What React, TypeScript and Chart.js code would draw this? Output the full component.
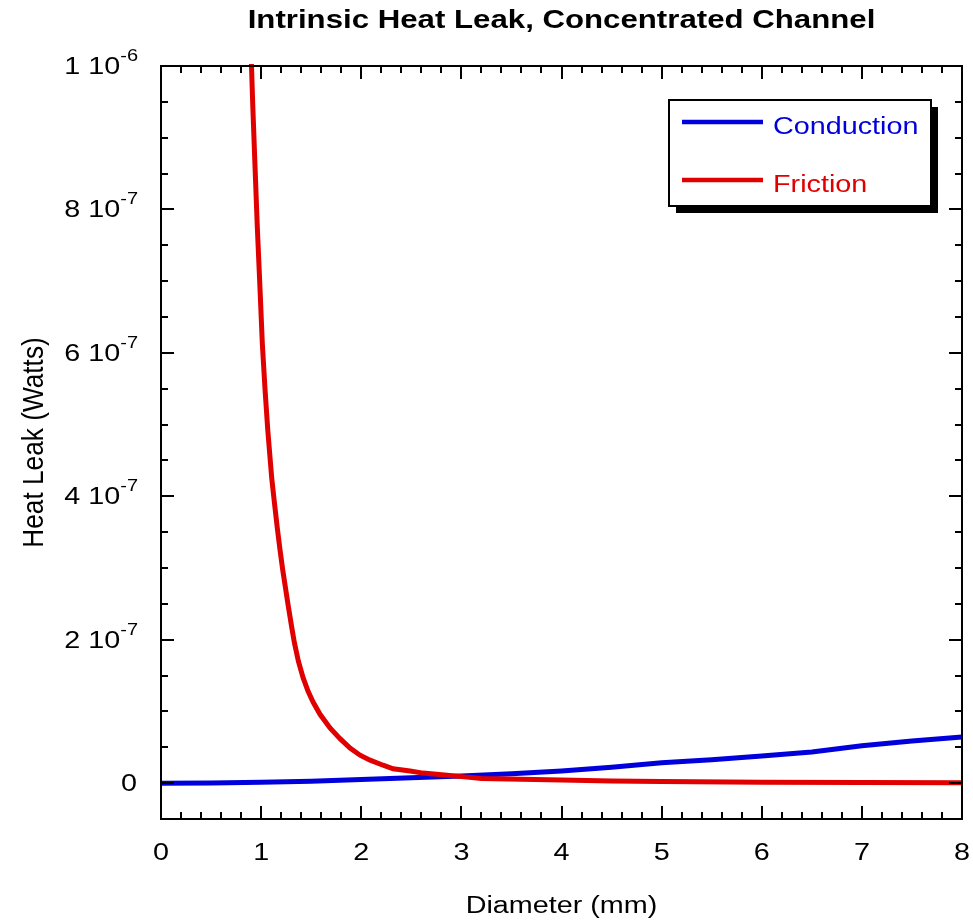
import { useEffect, useRef } from "react";
import { Chart, registerables } from "chart.js";

Chart.register(...registerables);

const titleText = "Intrinsic Heat Leak, Concentrated Channel";
const xAxisTitle = "Diameter (mm)";
const yAxisTitle = "Heat Leak (Watts)";
const seriesLabels = ["Conduction", "Friction"];

const conductionX = [0, 0.5, 1, 1.5, 2, 2.5, 3, 3.5, 4, 4.5, 5, 5.5, 6, 6.5, 7, 7.5, 8];
const conductionY = [
  0, 3.0e-10, 1.2e-9, 2.8e-9, 5.0e-9, 7.5e-9, 1.01e-8, 1.3e-8, 1.7e-8, 2.2e-8, 2.85e-8,
  3.27e-8, 3.8e-8, 4.35e-8, 5.2e-8, 5.87e-8, 6.45e-8,
];

const frictionX = [
  0.88, 0.896, 0.916, 0.939, 0.962, 0.989, 1.012, 1.039, 1.066, 1.106, 1.132, 1.162, 1.189,
  1.216, 1.246, 1.272, 1.306, 1.332, 1.372, 1.419, 1.469, 1.519, 1.588, 1.688, 1.788, 1.888,
  1.988, 2.088, 2.218, 2.318, 2.488, 2.617, 2.857, 3.057, 3.2, 3.6, 4.0, 4.5, 5, 6, 7, 8,
];
const frictionY = [
  1.11e-6, 1.035e-6, 9.47e-7, 8.6e-7, 7.75e-7, 6.89e-7, 6.13e-7, 5.49e-7, 4.93e-7, 4.25e-7,
  3.92e-7, 3.55e-7, 3.25e-7, 2.97e-7, 2.7e-7, 2.46e-7, 2.17e-7, 1.96e-7, 1.7e-7, 1.47e-7,
  1.28e-7, 1.13e-7, 9.6e-8, 7.7e-8, 6.2e-8, 4.9e-8, 3.9e-8, 3.2e-8, 2.5e-8, 2.0e-8, 1.68e-8,
  1.4e-8, 1.1e-8, 8.4e-9, 6.5e-9, 5.5e-9, 4.5e-9, 3.0e-9, 2.2e-9, 1.3e-9, 8.0e-10, 5.0e-10,
];

const xMin = 0;
const xMax = 8;
const xMinorStep = 0.2;
const xTickValues = [0, 1, 2, 3, 4, 5, 6, 7, 8];
const xTickLabels = ["0", "1", "2", "3", "4", "5", "6", "7", "8"];

const yMin = -5e-8;
const yMax = 1e-6;
const yMinorStep = 5e-8;
const yTickValues = [0, 2e-7, 4e-7, 6e-7, 8e-7, 1e-6];
const yTickMantissa = ["0", "2 10", "4 10", "6 10", "8 10", "1 10"];
const yTickExponent = ["", "-7", "-7", "-7", "-7", "-6"];

const BLUE = "#0000dc";
const RED = "#e00000";
const FONT = '"Liberation Sans", Arial, Helvetica, sans-serif';
const SX = 1.25;

function drawText(
  ctx: CanvasRenderingContext2D,
  s: string,
  x: number,
  y: number,
  size: number,
  color: string,
  align: "left" | "center" | "right",
  bold = false,
  sx = SX
) {
  ctx.save();
  ctx.font = `${bold ? "bold " : ""}${size}px ${FONT}`;
  ctx.fillStyle = color;
  ctx.textBaseline = "alphabetic";
  ctx.textAlign = "left";
  const w = ctx.measureText(s).width * sx;
  const left = align === "center" ? x - w / 2 : align === "right" ? x - w : x;
  ctx.translate(left, y);
  ctx.scale(sx, 1);
  ctx.fillText(s, 0, 0);
  ctx.restore();
  return w;
}

const framePlugin = {
  id: "framePlugin",
  afterDatasetsDraw(chart: any) {
    const ctx: CanvasRenderingContext2D = chart.ctx;
    const a = chart.chartArea;
    const xs = chart.scales.x;
    const ys = chart.scales.y;
    ctx.save();
    ctx.strokeStyle = "#000";
    ctx.lineWidth = 2;
    ctx.strokeRect(a.left, a.top, a.right - a.left, a.bottom - a.top);

    const major = 13;
    const minor = 7;
    ctx.beginPath();
    const nX = Math.round((xMax - xMin) / xMinorStep);
    for (let i = 0; i <= nX; i++) {
      const v = xMin + i * xMinorStep;
      const isMajor = xTickValues.some((t) => Math.abs(t - v) < 1e-9);
      const len = isMajor ? major : minor;
      const px = Math.round(xs.getPixelForValue(v));
      ctx.moveTo(px, a.bottom);
      ctx.lineTo(px, a.bottom - len);
      ctx.moveTo(px, a.top);
      ctx.lineTo(px, a.top + len);
    }
    const nY = Math.round((yMax - yMin) / yMinorStep);
    for (let i = 0; i <= nY; i++) {
      const v = yMin + i * yMinorStep;
      const isMajor = yTickValues.some((t) => Math.abs(t - v) < 1e-12);
      const len = isMajor ? major : minor;
      const py = Math.round(ys.getPixelForValue(v));
      ctx.moveTo(a.left, py);
      ctx.lineTo(a.left + len, py);
      ctx.moveTo(a.right, py);
      ctx.lineTo(a.right - len, py);
    }
    ctx.stroke();
    ctx.restore();

    // tick labels
    const tickSize = 23;
    xTickValues.forEach((v, i) => {
      const px = xs.getPixelForValue(v);
      drawText(ctx, xTickLabels[i], px, 860, tickSize, "#000", "center");
    });
    yTickValues.forEach((v, i) => {
      const py = ys.getPixelForValue(v);
      const exp = yTickExponent[i];
      if (exp) {
        const ew = drawText(ctx, exp, 138, py - 5, 16, "#000", "right");
        drawText(ctx, yTickMantissa[i], 138 - ew, py + 8, tickSize, "#000", "right");
      } else {
        drawText(ctx, yTickMantissa[i], 137, py + 8, tickSize, "#000", "right");
      }
    });

    // axis titles
    drawText(ctx, xAxisTitle, (a.left + a.right) / 2, 913, 23, "#000", "center");
    ctx.save();
    ctx.translate(43, (a.top + a.bottom) / 2);
    ctx.scale(1.15, 1);
    ctx.rotate(-Math.PI / 2);
    drawText(ctx, yAxisTitle, 0, 0, 25, "#000", "center", false, 1.05);
    ctx.restore();

    // title
    drawText(ctx, titleText, (a.left + a.right) / 2, 28, 26, "#000", "center", true, 1.2);

    // legend
    const lx = 669, ly = 100, lw = 262, lh = 106;
    ctx.save();
    ctx.fillStyle = "#000";
    ctx.fillRect(lx + 7, ly + 7, lw, lh);
    ctx.fillStyle = "#fff";
    ctx.fillRect(lx, ly, lw, lh);
    ctx.strokeStyle = "#000";
    ctx.lineWidth = 2;
    ctx.strokeRect(lx, ly, lw, lh);
    const ds = chart.data.datasets;
    const rows = [122, 180];
    ds.forEach((d: any, i: number) => {
      ctx.strokeStyle = d.borderColor;
      ctx.lineWidth = 4.5;
      ctx.beginPath();
      ctx.moveTo(lx + 13, rows[i]);
      ctx.lineTo(lx + 94, rows[i]);
      ctx.stroke();
      drawText(ctx, d.label, lx + 104, rows[i] + 12, 23, d.borderColor, "left");
    });
    ctx.restore();
  },
};

export default function App() {
  const ref = useRef<HTMLCanvasElement | null>(null);
  useEffect(() => {
    document.body.style.margin = "0";
    const canvas = ref.current!;
    const chart = new Chart(canvas, {
      type: "line",
      data: {
        datasets: [
          {
            label: seriesLabels[0],
            data: conductionX.map((x, i) => ({ x, y: conductionY[i] })),
            borderColor: BLUE,
            borderWidth: 5,
            pointRadius: 0,
            tension: 0,
            fill: false,
            order: 2,
            clip: 2,
          },
          {
            label: seriesLabels[1],
            data: frictionX.map((x, i) => ({ x, y: frictionY[i] })),
            borderColor: RED,
            borderWidth: 5,
            pointRadius: 0,
            tension: 0,
            fill: false,
            order: 1,
            clip: 2,
          },
        ],
      },
      options: {
        responsive: false,
        animation: false,
        devicePixelRatio: 1,
        layout: { padding: { left: 161, top: 66, right: 11, bottom: 102 } },
        plugins: {
          legend: { display: false },
          title: { display: false },
          tooltip: { enabled: false },
        },
        scales: {
          x: { type: "linear", min: xMin, max: xMax, display: false },
          y: { type: "linear", min: yMin, max: yMax, display: false },
        },
      } as any,
      plugins: [framePlugin],
    });
    return () => chart.destroy();
  }, []);
  return (
    <div style={{ width: 973, height: 921, background: "#fff" }}>
      <canvas ref={ref} width={973} height={921} style={{ display: "block" }} />
    </div>
  );
}
